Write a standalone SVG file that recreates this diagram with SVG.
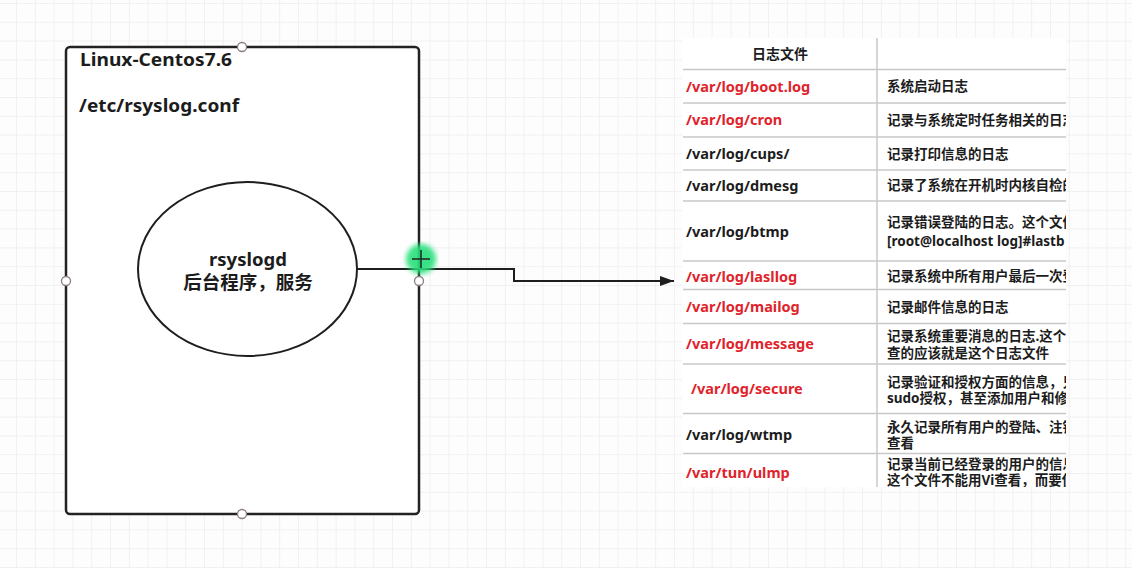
<svg xmlns="http://www.w3.org/2000/svg" width="1132" height="568" viewBox="0 0 1132 568">
<defs>
<style>
.lat{font-family:"Noto Sans","Liberation Sans","Noto Sans CJK SC",sans-serif;font-weight:700;}
.cjk{font-family:"Noto Sans","Noto Sans CJK SC",sans-serif;font-weight:700;}
.red{fill:#e0232b;}
.blk{fill:#1c1c1c;}
.rowline{stroke:#c8c8c8;stroke-width:1.5;}
.port{fill:#fff;stroke:#8c7c7c;stroke-width:1.3;}
.edge{fill:none;stroke:#1e1e1e;stroke-width:2;}
</style>
<pattern id="grid" x="16" y="3" width="18.8" height="18.8" patternUnits="userSpaceOnUse">
<path d="M0 0H18.8M0 0V18.8" fill="none" stroke="#e6e6e6" stroke-width="1"/>
</pattern>
<marker id="arr" markerWidth="14" markerHeight="10" refX="14" refY="5" orient="auto" markerUnits="userSpaceOnUse">
<path d="M0 0L14 5L0 10Z" fill="#1e1e1e"/>
</marker>
<clipPath id="tclip"><rect x="682" y="36" width="384" height="451"/></clipPath>
<filter id="blur"><feGaussianBlur stdDeviation="2.5"/></filter>
</defs>
<rect width="1132" height="568" fill="#fdfdfd"/>
<rect width="1132" height="568" fill="url(#grid)"/>

<g id="server">
<rect x="66" y="47" width="353" height="467" rx="4" fill="#fff" stroke="#222" stroke-width="2.5"/>
<text class="lat blk" x="80" y="66" font-size="17.5" textLength="152" lengthAdjust="spacingAndGlyphs">Linux-Centos7.6</text>
<text class="lat blk" x="79" y="112" font-size="18" textLength="160" lengthAdjust="spacingAndGlyphs">/etc/rsyslog.conf</text>
<circle class="port" cx="242" cy="47" r="4.5"/>
<circle class="port" cx="242" cy="514" r="4.5"/>
<circle class="port" cx="66" cy="281" r="4.5"/>
<circle class="port" cx="419" cy="281" r="4.5"/>
</g>

<g id="rsyslogd">
<ellipse cx="247.5" cy="269" rx="109.5" ry="87" fill="#fff" stroke="#1e1e1e" stroke-width="2"/>
<text class="lat blk" x="248" y="266" font-size="18.5" text-anchor="middle">rsyslogd</text>
<text class="cjk blk" x="248" y="289" font-size="18.5" text-anchor="middle">后台程序，服务</text>
</g>

<g id="connectors">
<path class="edge" d="M357 269H514V281H674" marker-end="url(#arr)"/>
</g>

<g id="logtable">
<rect x="682" y="38" width="384" height="449" fill="#fff"/>
<g clip-path="url(#tclip)">
<line class="rowline" x1="877" y1="38" x2="877" y2="487"/>
<line class="rowline" x1="683" y1="69.5" x2="1066" y2="69.5"/>
<line class="rowline" x1="683" y1="103" x2="1066" y2="103"/>
<line class="rowline" x1="683" y1="137" x2="1066" y2="137"/>
<line class="rowline" x1="683" y1="170" x2="1066" y2="170"/>
<line class="rowline" x1="683" y1="201" x2="1066" y2="201"/>
<line class="rowline" x1="683" y1="261" x2="1066" y2="261"/>
<line class="rowline" x1="683" y1="289.5" x2="1066" y2="289.5"/>
<line class="rowline" x1="683" y1="323.5" x2="1066" y2="323.5"/>
<line class="rowline" x1="683" y1="364" x2="1066" y2="364"/>
<line class="rowline" x1="683" y1="413.5" x2="1066" y2="413.5"/>
<line class="rowline" x1="683" y1="453.5" x2="1066" y2="453.5"/>

<text class="cjk blk" x="780" y="59" font-size="14" text-anchor="middle">日志文件</text>

<g font-size="14.5" class="lat">
<text class="red" x="686" y="92">/var/log/boot.log</text>
<text class="red" x="686" y="125">/var/log/cron</text>
<text class="blk" x="686" y="159">/var/log/cups/</text>
<text class="blk" x="686" y="191">/var/log/dmesg</text>
<text class="blk" x="686" y="237">/var/log/btmp</text>
<text class="red" x="686" y="282">/var/log/lasllog</text>
<text class="red" x="686" y="312">/var/log/mailog</text>
<text class="red" x="686" y="349">/var/log/message</text>
<text class="red" x="691" y="394">/var/log/secure</text>
<text class="blk" x="686" y="440">/var/log/wtmp</text>
<text class="red" x="686" y="478">/var/tun/ulmp</text>
</g>

<g font-size="13.5" class="cjk blk">
<text x="887" y="91">系统启动日志</text>
<text x="887" y="125">记录与系统定时任务相关的日志</text>
<text x="887" y="159">记录打印信息的日志</text>
<text x="887" y="190">记录了系统在开机时内核自检的</text>
<text x="887" y="227">记录错误登陆的日志。这个文件</text>
<text x="887" y="246">[root@localhost log]#lastb</text>
<text x="887" y="281">记录系统中所有用户最后一次登</text>
<text x="887" y="312">记录邮件信息的日志</text>
<text x="887" y="341">记录系统重要消息的日志.这个</text>
<text x="887" y="358">查的应该就是这个日志文件</text>
<text x="887" y="387">记录验证和授权方面的信息，只</text>
<text x="887" y="403">sudo授权，甚至添加用户和修</text>
<text x="887" y="432">永久记录所有用户的登陆、注销</text>
<text x="887" y="448">查看</text>
<text x="887" y="469">记录当前已经登录的用户的信息</text>
<text x="887" y="485">这个文件不能用Vi查看，而要使</text>
</g>
</g>
</g>

<g id="cursor">
<circle cx="421" cy="259" r="15" fill="#25e07a" opacity="0.9" filter="url(#blur)"/>
<path d="M421 250V268M412 259H430" stroke="#222" stroke-width="1.5"/>
</g>
</svg>
